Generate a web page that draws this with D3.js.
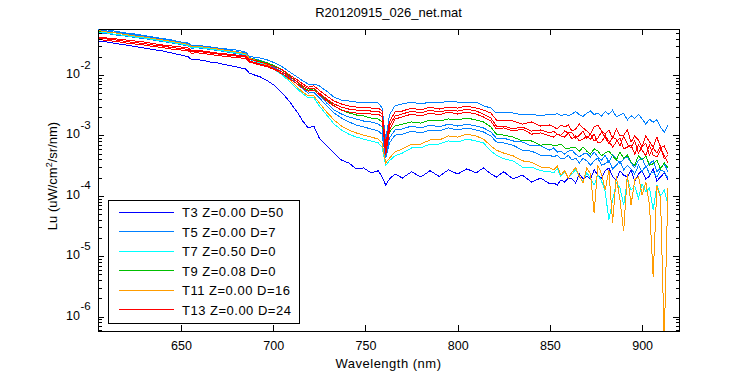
<!DOCTYPE html>
<html>
<head>
<meta charset="utf-8">
<script src="https://cdn.jsdelivr.net/npm/d3@7"></script>
<style>
  body { margin: 0; background: #fff; }
  text { font-family: "Liberation Sans", Arial, Helvetica, sans-serif; fill: #000; }
  .axis path, .axis line { stroke: #000; shape-rendering: crispEdges; }
  .spec { fill: none; stroke-width: 1; shape-rendering: crispEdges; }
</style>
</head>
<body>
<svg id="chart" width="750" height="375"></svg>
<script>
// wavelengths (nm) shared by every cast
const wavelength = [605,610,615,620,625,630,635,640,645,650,654,656,658,662,666,670,675,680,685,687,
  689,693,697,701,705,709,713,716,719,722,725,729,733,737,741,745,749,753,757,759,
  761,763,766,770,775,780,785,790,795,800,805,810,814,818,821,825,830,835,840,845,850,
  852,854,856,858,860,862,864,866,868,870,872,874,876,878,880,882,884,886,888,890,
  892,894,896,898,900,902,904,906,908,910,912,914];

// Lu (uW/cm^2/sr/nm)
const t3 = [3.66e-2,3.52e-2,3.32e-2,3.14e-2,2.96e-2,2.8e-2,2.64e-2,2.5e-2,2.31e-2,2.14e-2,
  1.99e-2,1.77e-2,1.81e-2,1.74e-2,1.64e-2,1.58e-2,1.46e-2,1.36e-2,1.26e-2,1.08e-2,
  1.02e-2,9.3e-3,8.0e-3,6.6e-3,5.0e-3,3.57e-3,2.44e-3,1.73e-3,1.33e-3,1.43e-3,
  9.0e-4,6.7e-4,5.1e-4,3.9e-4,3.5e-4,2.8e-4,2.9e-4,2.4e-4,2.6e-4,2.05e-4,
  1.51e-4,1.9e-4,2.3e-4,1.97e-4,2.5e-4,2.05e-4,2.6e-4,2.1e-4,2.7e-4,2.3e-4,
  2.8e-4,2.4e-4,2.9e-4,2.3e-4,2.05e-4,2.5e-4,1.9e-4,2.2e-4,1.69e-4,1.97e-4,1.57e-4,
  1.63e-4,1.51e-4,1.83e-4,1.69e-4,1.97e-4,1.9e-4,1.63e-4,2.3e-4,1.9e-4,2.1e-4,
  1.9e-4,2.7e-4,2.2e-4,1.97e-4,2.6e-4,2.9e-4,2.1e-4,1.83e-4,2.6e-4,2.2e-4,
  2.05e-4,2.7e-4,1.76e-4,2.3e-4,2.6e-4,1.9e-4,2.1e-4,2.8e-4,1.76e-4,2.05e-4,2.4e-4,1.83e-4];

const t5a = [5.8e-2,5.6e-2,5.25e-2,4.96e-2,4.77e-2,4.5e-2,4.26e-2,4.02e-2,3.8e-2,3.52e-2,
  3.39e-2,3.02e-2,3.14e-2,3.02e-2,2.91e-2,2.8e-2,2.69e-2,2.59e-2,2.4e-2,2.06e-2,
  1.99e-2,1.91e-2,1.77e-2,1.58e-2,1.36e-2,1.12e-2,9.3e-3,8.0e-3,7.1e-3,7.1e-3,
  6.6e-3,5.4e-3,4.3e-3,3.85e-3,3.71e-3,3.57e-3,3.57e-3,3.57e-3,3.44e-3,2.84e-3,
  8.4e-4,2.18e-3,3.1e-3,3.31e-3,3.57e-3,3.31e-3,3.57e-3,3.44e-3,3.71e-3,3.57e-3,
  3.44e-3,3.57e-3,3.1e-3,2.84e-3,2.35e-3,2.44e-3,2.35e-3,2.18e-3,2.26e-3,2.1e-3,2.26e-3,
  2.18e-3,2.31e-3,2.12e-3,2.24e-3,2.13e-3,2.26e-3,2.48e-3,2.2e-3,2.07e-3,2.33e-3,
  2.55e-3,2.21e-3,2.35e-3,2.08e-3,2.49e-3,2.23e-3,2.63e-3,2.03e-3,2.18e-3,2.34e-3,
  1.8e-3,2.12e-3,1.9e-3,2.23e-3,1.88e-3,1.53e-3,1.85e-3,1.65e-3,1.82e-3,1.36e-3,1.13e-3,1.45e-3];

const t5b = [5.6e-2,5.35e-2,5.05e-2,4.77e-2,4.59e-2,4.34e-2,4.1e-2,3.87e-2,3.66e-2,3.45e-2,
  3.26e-2,2.96e-2,3.08e-2,2.96e-2,2.85e-2,2.75e-2,2.59e-2,2.45e-2,2.31e-2,1.95e-2,
  1.88e-2,1.74e-2,1.58e-2,1.41e-2,1.21e-2,9.6e-3,7.7e-3,6.3e-3,5.4e-3,5.6e-3,
  4.7e-3,3.44e-3,2.63e-3,2.26e-3,2.02e-3,1.87e-3,1.73e-3,1.67e-3,1.54e-3,1.38e-3,
  4.6e-4,9.0e-4,1.23e-3,1.28e-3,1.43e-3,1.33e-3,1.49e-3,1.38e-3,1.54e-3,1.43e-3,
  1.54e-3,1.43e-3,1.33e-3,1.14e-3,9.0e-4,9.0e-4,8.1e-4,7.8e-4,6.7e-4,6.7e-4,5.7e-4,
  6.2e-4,5.3e-4,5.5e-4,4.9e-4,5.5e-4,5.7e-4,4.9e-4,4.4e-4,4.9e-4,5.1e-4,
  4.4e-4,5.3e-4,4.4e-4,3.9e-4,4.7e-4,3.6e-4,4.7e-4,4.1e-4,3.4e-4,4.1e-4,
  4.4e-4,3.5e-4,2.9e-4,3.9e-4,4.2e-4,3.0e-4,3.4e-4,3.8e-4,2.5e-4,2.9e-4,3.4e-4,2.5e-4];

const t5c = [5.05e-2,4.86e-2,4.59e-2,4.42e-2,4.18e-2,4.02e-2,3.8e-2,3.59e-2,3.39e-2,3.2e-2,
  3.02e-2,2.75e-2,2.85e-2,2.75e-2,2.64e-2,2.55e-2,2.4e-2,2.27e-2,2.14e-2,1.81e-2,
  1.74e-2,1.61e-2,1.46e-2,1.31e-2,1.12e-2,8.9e-3,7.1e-3,5.9e-3,5.0e-3,5.2e-3,
  4.2e-3,3.07e-3,2.35e-3,1.94e-3,1.67e-3,1.49e-3,1.38e-3,1.28e-3,1.18e-3,1.05e-3,
  4.2e-4,7.5e-4,1.01e-3,1.05e-3,1.18e-3,1.1e-3,1.23e-3,1.18e-3,1.33e-3,1.23e-3,
  1.33e-3,1.23e-3,1.14e-3,9.8e-4,7.8e-4,7.5e-4,6.9e-4,5.7e-4,5.5e-4,4.7e-4,4.7e-4,
  4.4e-4,4.7e-4,4.1e-4,4.2e-4,4.7e-4,3.9e-4,4.2e-4,3.5e-4,4.2e-4,3.8e-4,
  3.2e-4,3.8e-4,4.2e-4,3.2e-4,3.4e-4,3.8e-4,2.8e-4,3.2e-4,3.8e-4,2.7e-4,
  3.2e-4,2.8e-4,2.3e-4,3.2e-4,2.5e-4,3.2e-4,2.3e-4,2.5e-4,2.05e-4,2.7e-4,2.5e-4,1.97e-4];

const t7 = [5.15e-2,4.96e-2,4.68e-2,4.5e-2,4.26e-2,4.1e-2,3.87e-2,3.66e-2,3.45e-2,3.26e-2,
  3.08e-2,2.8e-2,2.91e-2,2.8e-2,2.69e-2,2.59e-2,2.45e-2,2.31e-2,2.18e-2,1.84e-2,
  1.74e-2,1.58e-2,1.41e-2,1.21e-2,1.0e-2,7.7e-3,5.9e-3,4.9e-3,4.2e-3,4.2e-3,
  3.07e-3,2.18e-3,1.54e-3,1.23e-3,1.05e-3,9.4e-4,8.7e-4,8.1e-4,7.5e-4,6.4e-4,
  3.2e-4,3.8e-4,4.6e-4,5.1e-4,6.2e-4,6.2e-4,7.2e-4,7.2e-4,8.1e-4,7.8e-4,
  8.7e-4,8.1e-4,7.5e-4,5.5e-4,4.7e-4,4.1e-4,3.8e-4,3.0e-4,3.0e-4,2.6e-4,2.5e-4,
  2.4e-4,2.8e-4,2.1e-4,2.5e-4,1.97e-4,2.3e-4,2.7e-4,2.05e-4,1.76e-4,2.4e-4,
  1.97e-4,1.51e-4,2.2e-4,1.76e-4,1.16e-4,4.0e-5,8.5e-5,1.63e-4,1.35e-4,7.0e-5,
  1.83e-4,1.25e-4,1.45e-4,9.2e-5,1.57e-4,1.16e-4,1.35e-4,5.8e-5,1.51e-4,9.9e-5,1.25e-4,7.0e-5];

const t9 = [5.35e-2,5.15e-2,4.96e-2,4.68e-2,4.42e-2,4.26e-2,4.02e-2,3.8e-2,3.59e-2,3.39e-2,
  3.2e-2,2.91e-2,3.02e-2,2.91e-2,2.8e-2,2.69e-2,2.55e-2,2.4e-2,2.27e-2,1.91e-2,
  1.84e-2,1.71e-2,1.58e-2,1.41e-2,1.21e-2,9.6e-3,7.7e-3,6.3e-3,5.6e-3,5.9e-3,
  5.0e-3,3.85e-3,3.1e-3,2.63e-3,2.35e-3,2.18e-3,2.1e-3,1.94e-3,1.87e-3,1.67e-3,
  5.7e-4,1.14e-3,1.43e-3,1.54e-3,1.67e-3,1.6e-3,1.8e-3,1.73e-3,1.87e-3,1.8e-3,
  1.94e-3,1.8e-3,1.67e-3,1.38e-3,1.05e-3,1.01e-3,9.4e-4,8.1e-4,8.1e-4,6.9e-4,7.2e-4,
  6.7e-4,6.9e-4,7.2e-4,6.2e-4,6.0e-4,6.4e-4,6.2e-4,5.5e-4,6.4e-4,5.5e-4,
  4.9e-4,6.0e-4,5.5e-4,4.6e-4,5.1e-4,5.5e-4,4.6e-4,3.9e-4,5.3e-4,4.2e-4,
  4.7e-4,3.6e-4,3.2e-4,4.6e-4,3.9e-4,4.6e-4,3.2e-4,3.4e-4,3.9e-4,2.8e-4,3.5e-4,2.9e-4];

const t11 = [5.45e-2,5.15e-2,4.96e-2,4.68e-2,4.42e-2,4.26e-2,4.02e-2,3.8e-2,3.59e-2,3.39e-2,
  3.2e-2,2.91e-2,3.02e-2,2.91e-2,2.8e-2,2.69e-2,2.55e-2,2.4e-2,2.27e-2,1.91e-2,
  1.81e-2,1.64e-2,1.46e-2,1.26e-2,1.04e-2,8.3e-3,6.3e-3,5.2e-3,4.5e-3,4.5e-3,
  3.44e-3,2.44e-3,1.8e-3,1.43e-3,1.23e-3,1.1e-3,1.01e-3,9.4e-4,8.7e-4,7.5e-4,
  3.5e-4,4.2e-4,5.3e-4,6.0e-4,7.2e-4,7.2e-4,8.4e-4,8.4e-4,9.8e-4,9.4e-4,
  1.05e-3,9.8e-4,8.7e-4,6.7e-4,5.7e-4,5.1e-4,4.6e-4,3.8e-4,3.6e-4,3.0e-4,2.9e-4,
  2.7e-4,3.1e-4,2.2e-4,2.6e-4,1.97e-4,2.5e-4,2.9e-4,2.1e-4,1.63e-4,2.9e-4,
  2.3e-4,5.2e-5,3.2e-4,2.3e-4,1.25e-4,2.7e-4,3.6e-5,2.1e-4,8.5e-5,2.6e-5,
  2.3e-4,7.0e-5,1.83e-4,2.1e-4,1.03e-4,1.69e-4,7.0e-5,4.5e-6,1.45e-4,9.2e-5,4.1e-7,1.35e-4];

const t13a = [4.26e-2,4.1e-2,3.95e-2,3.8e-2,3.66e-2,3.52e-2,3.32e-2,3.14e-2,3.02e-2,2.91e-2,
  2.8e-2,2.5e-2,2.59e-2,2.5e-2,2.4e-2,2.31e-2,2.23e-2,2.14e-2,2.1e-2,1.84e-2,
  1.77e-2,1.64e-2,1.52e-2,1.36e-2,1.21e-2,1.0e-2,8.3e-3,7.1e-3,6.3e-3,6.6e-3,
  5.6e-3,4.5e-3,3.71e-3,3.31e-3,3.07e-3,2.95e-3,2.95e-3,2.84e-3,2.84e-3,2.53e-3,
  6.9e-4,1.67e-3,2.44e-3,2.53e-3,2.84e-3,2.63e-3,2.95e-3,2.73e-3,2.95e-3,2.84e-3,
  3.07e-3,2.84e-3,2.63e-3,2.35e-3,1.8e-3,1.8e-3,1.73e-3,1.54e-3,1.67e-3,1.43e-3,1.49e-3,
  1.38e-3,1.28e-3,1.49e-3,1.38e-3,1.49e-3,1.18e-3,1.28e-3,1.54e-3,1.33e-3,1.18e-3,
  1.05e-3,1.38e-3,1.49e-3,1.18e-3,1.05e-3,1.23e-3,9.0e-4,1.28e-3,9.8e-4,1.01e-3,
  1.23e-3,7.8e-4,9.8e-4,8.4e-4,6.4e-4,9.8e-4,7.8e-4,6.4e-4,9.4e-4,6.2e-4,6.7e-4,4.9e-4];

const t13b = [4.1e-2,3.95e-2,3.8e-2,3.59e-2,3.45e-2,3.32e-2,3.14e-2,3.02e-2,2.85e-2,2.75e-2,
  2.64e-2,2.4e-2,2.5e-2,2.4e-2,2.31e-2,2.23e-2,2.14e-2,2.06e-2,1.99e-2,1.71e-2,
  1.64e-2,1.52e-2,1.41e-2,1.26e-2,1.12e-2,9.3e-3,7.7e-3,6.6e-3,5.9e-3,6.1e-3,
  5.0e-3,4.0e-3,3.31e-3,2.95e-3,2.73e-3,2.63e-3,2.63e-3,2.53e-3,2.53e-3,2.26e-3,
  5.7e-4,1.43e-3,2.1e-3,2.26e-3,2.53e-3,2.35e-3,2.63e-3,2.44e-3,2.63e-3,2.53e-3,
  2.73e-3,2.53e-3,2.26e-3,1.94e-3,1.43e-3,1.43e-3,1.28e-3,1.38e-3,1.18e-3,1.23e-3,1.1e-3,
  1.18e-3,1.05e-3,1.01e-3,1.18e-3,1.1e-3,1.1e-3,9.0e-4,1.01e-3,1.18e-3,9.0e-4,
  1.05e-3,8.1e-4,9.0e-4,1.14e-3,9.4e-4,7.2e-4,9.4e-4,8.7e-4,6.7e-4,9.8e-4,
  7.2e-4,6.2e-4,8.1e-4,5.1e-4,6.4e-4,7.5e-4,4.7e-4,6.2e-4,5.1e-4,6.7e-4,4.1e-4,4.7e-4];

const t13c = [3.87e-2,3.73e-2,3.59e-2,3.39e-2,3.26e-2,3.14e-2,2.96e-2,2.85e-2,2.69e-2,2.59e-2,
  2.5e-2,2.27e-2,2.36e-2,2.27e-2,2.18e-2,2.1e-2,2.02e-2,1.95e-2,1.88e-2,1.64e-2,
  1.58e-2,1.46e-2,1.36e-2,1.21e-2,1.04e-2,8.6e-3,7.1e-3,6.1e-3,5.4e-3,5.6e-3,
  4.7e-3,3.71e-3,3.07e-3,2.63e-3,2.44e-3,2.35e-3,2.35e-3,2.26e-3,2.26e-3,2.02e-3,
  4.7e-4,1.23e-3,1.87e-3,2.02e-3,2.26e-3,2.1e-3,2.35e-3,2.18e-3,2.44e-3,2.26e-3,
  2.44e-3,2.26e-3,2.02e-3,1.73e-3,1.28e-3,1.33e-3,1.18e-3,1.28e-3,1.05e-3,1.1e-3,9.8e-4,
  9.4e-4,1.05e-3,9.8e-4,9.4e-4,1.1e-3,8.7e-4,9.8e-4,8.1e-4,8.7e-4,9.8e-4,
  8.7e-4,1.05e-3,7.5e-4,7.8e-4,9.8e-4,8.1e-4,6.4e-4,7.8e-4,9.0e-4,6.0e-4,
  6.4e-4,6.9e-4,4.9e-4,6.9e-4,5.7e-4,4.6e-4,6.9e-4,4.7e-4,4.4e-4,5.7e-4,4.7e-4,3.5e-4];

const seriesNames = ["T3 Z=0.00 D=50", "T5 Z=0.00 D=7", "T7 Z=0.50 D=0",
                     "T9 Z=0.08 D=0", "T11 Z=0.00 D=16", "T13 Z=0.00 D=24"];
const seriesCasts = [[t3], [t5a, t5b, t5c], [t7], [t9], [t11], [t13a, t13b, t13c]];
const xTicks = [650, 700, 750, 800, 850, 900];
const yMajor = [1e-6, 1e-5, 1e-4, 1e-3, 1e-2];

const colors = ["#0000ff", "#0080ff", "#00ffff", "#00bf00", "#ff9c00", "#ff0000"];
const font = '"Liberation Sans", Arial, Helvetica, sans-serif';

const svg = d3.select("#chart");
const pL = 98, pR = 679, pT = 29, pB = 331;

const x = d3.scaleLinear().domain([605, 920]).range([pL, pR]);
const y = d3.scaleLog().domain([5.78e-7, 5.78e-2]).range([pB, pT]);
const yMinor = y.ticks().filter(v => !yMajor.some(m => Math.abs(m - v) / m < 1e-6));

svg.append("rect").attr("x", 0).attr("y", 0).attr("width", 750).attr("height", 375).attr("fill", "#fff");

svg.append("defs").append("clipPath").attr("id", "plotclip")
  .append("rect").attr("x", pL).attr("y", pT).attr("width", pR - pL).attr("height", pB - pT);

// spectra
const line = d3.line()
  .defined(d => d[1] != null)
  .x(d => x(d[0]))
  .y(d => y(d[1]));

const plot = svg.append("g").attr("clip-path", "url(#plotclip)");
seriesCasts.forEach((casts, si) => {
  casts.forEach(vals => {
    plot.append("path")
      .attr("class", "spec")
      .attr("stroke", colors[si])
      .attr("d", line(wavelength.map((w, i) => [w, vals[i]])));
  });
});

// axes, ticks pointing inward
function styleAxis(g) {
  g.attr("font-family", font).attr("font-size", 12.5);
  g.selectAll("text").attr("fill", "#000");
}
svg.append("g").attr("class", "axis").attr("transform", `translate(0,${pB})`)
  .call(d3.axisBottom(x).tickValues(xTicks).tickSizeInner(-6).tickSizeOuter(0).tickPadding(10))
  .call(styleAxis);
svg.append("g").attr("class", "axis").attr("transform", `translate(0,${pT})`)
  .call(d3.axisTop(x).tickValues(xTicks).tickSizeInner(-6).tickSizeOuter(0).tickFormat(""));
svg.append("g").attr("class", "axis").attr("transform", `translate(${pL},0)`)
  .call(d3.axisLeft(y).tickValues(yMajor).tickSizeInner(-6).tickSizeOuter(0).tickFormat(""));
svg.append("g").attr("class", "axis").attr("transform", `translate(${pL},0)`)
  .call(d3.axisLeft(y).tickValues(yMinor).tickSizeInner(-3.5).tickSizeOuter(0).tickFormat(""));
svg.append("g").attr("class", "axis").attr("transform", `translate(${pR},0)`)
  .call(d3.axisRight(y).tickValues(yMajor).tickSizeInner(-6).tickSizeOuter(0).tickFormat(""));
svg.append("g").attr("class", "axis").attr("transform", `translate(${pR},0)`)
  .call(d3.axisRight(y).tickValues(yMinor).tickSizeInner(-3.5).tickSizeOuter(0).tickFormat(""));

// 10^n labels
const yLab = svg.append("g").attr("font-family", font);
yMajor.forEach(v => {
  const ty = y(v);
  yLab.append("text").attr("x", 80).attr("y", ty + 3).attr("text-anchor", "end")
    .attr("font-size", 12.5).text("10");
  yLab.append("text").attr("x", 80.5).attr("y", ty - 6.5).attr("text-anchor", "start")
    .attr("font-size", 11.5).text(String(Math.round(Math.log10(v))));
});

// titles
svg.append("text").attr("x", (pL + pR) / 2).attr("y", 17).attr("text-anchor", "middle")
  .attr("font-size", 13).text("R20120915_026_net.mat");
svg.append("text").attr("x", (pL + pR) / 2).attr("y", 368).attr("text-anchor", "middle")
  .attr("font-size", 13).attr("letter-spacing", 0.5).text("Wavelength (nm)");
const yt = svg.append("text").attr("transform", "translate(57,176) rotate(-90)")
  .attr("text-anchor", "middle").attr("font-size", 13);
yt.append("tspan").text("Lu (uW/cm");
yt.append("tspan").attr("dy", -5).attr("font-size", 9).text("2");
yt.append("tspan").attr("dy", 5).text("/sr/nm)");

// legend
const lg = svg.append("g").attr("transform", "translate(108,200)");
lg.append("rect").attr("x", 0.5).attr("y", 0.5).attr("width", 191).attr("height", 123)
  .attr("fill", "#fff").attr("stroke", "#000").attr("shape-rendering", "crispEdges");
seriesNames.forEach((name, i) => {
  const ry = 12 + i * 19.5;
  lg.append("line").attr("x1", 11).attr("x2", 66).attr("y1", ry).attr("y2", ry)
    .attr("stroke", colors[i]).attr("stroke-width", 1).attr("shape-rendering", "crispEdges");
  lg.append("text").attr("x", 74).attr("y", ry + 5).attr("font-size", 13)
    .attr("letter-spacing", 0.5).text(name);
});
</script>
</body>
</html>
